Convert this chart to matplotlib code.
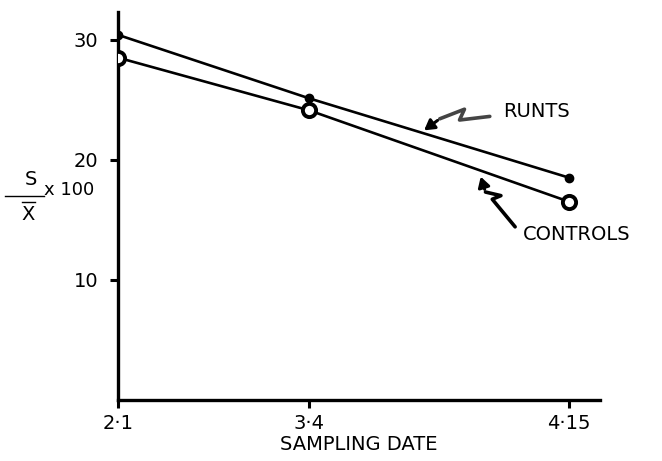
import matplotlib.pyplot as plt
from matplotlib.lines import Line2D

# sampling dates (days after Feb 1) and their labels
days = [0, 31, 73]
date_labels = ['2·1', '3·4', '4·15']

# coefficient of variation (S / mean x 100)
runts = [30.4, 25.1, 18.5]
controls = [28.5, 24.1, 16.5]

y_ticks = [10, 20, 30]

fig = plt.figure(figsize=(6.62, 4.61), dpi=100)
ax = fig.add_axes([0.178, 0.133, 0.728, 0.841])

ax.plot(days, runts, color='black', lw=1.9, marker='o', ms=6,
        mfc='black', mec='black', zorder=3)
ax.plot(days, controls, color='black', lw=1.9, marker='o', ms=9.5,
        mfc='white', mec='black', mew=2.8, zorder=3)

ax.set_xlim(0, 78)
ax.set_ylim(0, 32.3)
ax.set_xticks(days)
ax.set_xticklabels(date_labels, fontsize=14)
ax.set_yticks(y_ticks)
ax.set_yticklabels([str(t) for t in y_ticks], fontsize=14)
ax.tick_params(axis='both', length=6, width=2.2, color='black', pad=4)
ax.tick_params(axis='y', pad=8)

for side in ['top', 'right']:
    ax.spines[side].set_visible(False)
for side in ['left', 'bottom']:
    ax.spines[side].set_linewidth(2.4)
    ax.spines[side].set_clip_on(False)

ax.set_xlabel('SAMPLING DATE', fontsize=14, labelpad=2)

# y label: S over X-bar, times 100
fig.text(0.046, 0.610, 'S', fontsize=14, va='center', ha='center')
fig.add_artist(Line2D([0.008, 0.066], [0.575, 0.575], color='black', lw=1.0))
fig.text(0.043, 0.535, 'X', fontsize=14, va='center', ha='center')
fig.add_artist(Line2D([0.033, 0.053], [0.561, 0.561], color='black', lw=1.0))
fig.text(0.066, 0.587, 'x 100', fontsize=13, va='center', ha='left')

# hand-drawn zigzag arrows with the series names
runts_arrow_x = [60.2, 55.3, 56.1, 52.1, 49.9]
runts_arrow_y = [23.6, 23.3, 24.2, 23.4, 22.7]
ax.plot(runts_arrow_x[:-1], runts_arrow_y[:-1], color='#444444', lw=2.6,
        solid_capstyle='round', clip_on=False)
ax.annotate('', xy=(49.2, 22.3), xytext=(runts_arrow_x[-2], runts_arrow_y[-2]),
            arrowprops=dict(arrowstyle='-|>,head_length=0.6,head_width=0.35',
                            color='black', lw=2.2))
ax.text(62.4, 24.0, 'RUNTS', fontsize=14, va='center', ha='left')

ctrl_arrow_x = [64.3, 60.6, 62.0, 59.5, 59.0]
ctrl_arrow_y = [14.4, 16.7, 17.0, 17.3, 18.3]
ax.plot(ctrl_arrow_x[:-1], ctrl_arrow_y[:-1], color='black', lw=2.6,
        solid_capstyle='round', clip_on=False)
ax.annotate('', xy=(58.6, 18.8), xytext=(ctrl_arrow_x[-2], ctrl_arrow_y[-2]),
            arrowprops=dict(arrowstyle='-|>,head_length=0.6,head_width=0.35',
                            color='black', lw=2.2))
ax.text(65.5, 13.8, 'CONTROLS', fontsize=14, va='center', ha='left',
        clip_on=False)

fig.savefig('out.png', dpi=100)
